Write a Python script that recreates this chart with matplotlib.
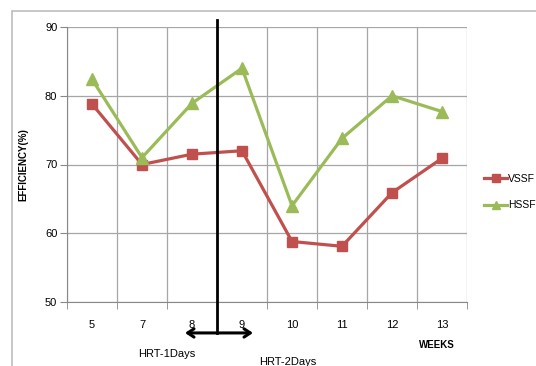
import matplotlib.pyplot as plt
from matplotlib.patches import Rectangle

weeks = ['5', '7', '8', '9', '10', '11', '12', '13']
vssf = [78.8, 70.0, 71.5, 72.0, 58.8, 58.1, 65.9, 70.9]
hssf = [82.4, 71.0, 78.9, 84.0, 64.0, 73.8, 80.0, 77.7]

red = '#C0504D'
green = '#9BBB59'
plt.rcParams['font.family'] = ['Liberation Sans', 'DejaVu Sans']

fig = plt.figure(figsize=(5.36, 3.66), dpi=100)
# outer chart border
fig.patches.append(Rectangle((12/536, -0.1), 1.2, 1 - 11/366 + 0.1, transform=fig.transFigure,
                             fill=False, edgecolor='#bdbdbd', lw=1.2))
ax = fig.add_axes([67/536, 1 - 302/366, 400/536, 275/366])

x = list(range(len(weeks)))
ax.plot(x, vssf, color=red, lw=2.3, marker='s', ms=7.5, label='VSSF', clip_on=False, zorder=3)
ax.plot(x, hssf, color=green, lw=2.3, marker='^', ms=8, label='HSSF', clip_on=False, zorder=3)

ax.set_xlim(-0.5, len(weeks) - 0.5)
ax.set_ylim(50, 90)
ax.set_yticks([50, 60, 70, 80, 90])
ax.set_xticks(x)
ax.set_xticklabels(weeks)
ax.set_xticks([i - 0.5 for i in range(len(weeks) + 1)], minor=True)
ax.tick_params(axis='x', which='major', length=0, labelsize=8, pad=13)
ax.tick_params(axis='x', which='minor', length=5, color='#888888', direction='out')
ax.tick_params(axis='y', length=5, color='#888888', labelsize=8, pad=2)
ax.grid(True, which='minor', axis='x', color='#a6a6a6', lw=0.9)
ax.grid(True, which='major', axis='y', color='#a6a6a6', lw=0.9)
for s in ['top', 'right']:
    ax.spines[s].set_visible(False)
ax.spines['left'].set_color('#888888')
ax.spines['bottom'].set_color('#888888')
ax.set_axisbelow(True)

ax.set_ylabel('EFFICIENCY(%)', fontsize=7, fontweight='bold', labelpad=12)

# HRT divider and arrow
ax.plot([2.5, 2.5], [91, 45.5], color='black', lw=2, clip_on=False, zorder=4)
ax.annotate('', xy=(1.86, 45.5), xytext=(3.22, 45.5), xycoords='data', annotation_clip=False,
            arrowprops=dict(arrowstyle='<->,head_length=0.45,head_width=0.3', color='black', lw=2.2,
                            shrinkA=0, shrinkB=0))
ax.text(1.5, 42.4, 'HRT-1Days', fontsize=8, ha='center', va='center')
ax.text(3.35, 41.2, 'HRT-2Days', fontsize=8, ha='left', va='center')
ax.text(6.9, 43.7, 'WEEKS', fontsize=7, fontweight='bold', ha='center', va='center')

ax.legend(loc='center left', bbox_to_anchor=(1.02, 0.40), frameon=False, fontsize=7.5,
          handlelength=2.2, handletextpad=0.1, labelspacing=1.6, markerscale=0.8)

fig.savefig('out.png', dpi=100)
